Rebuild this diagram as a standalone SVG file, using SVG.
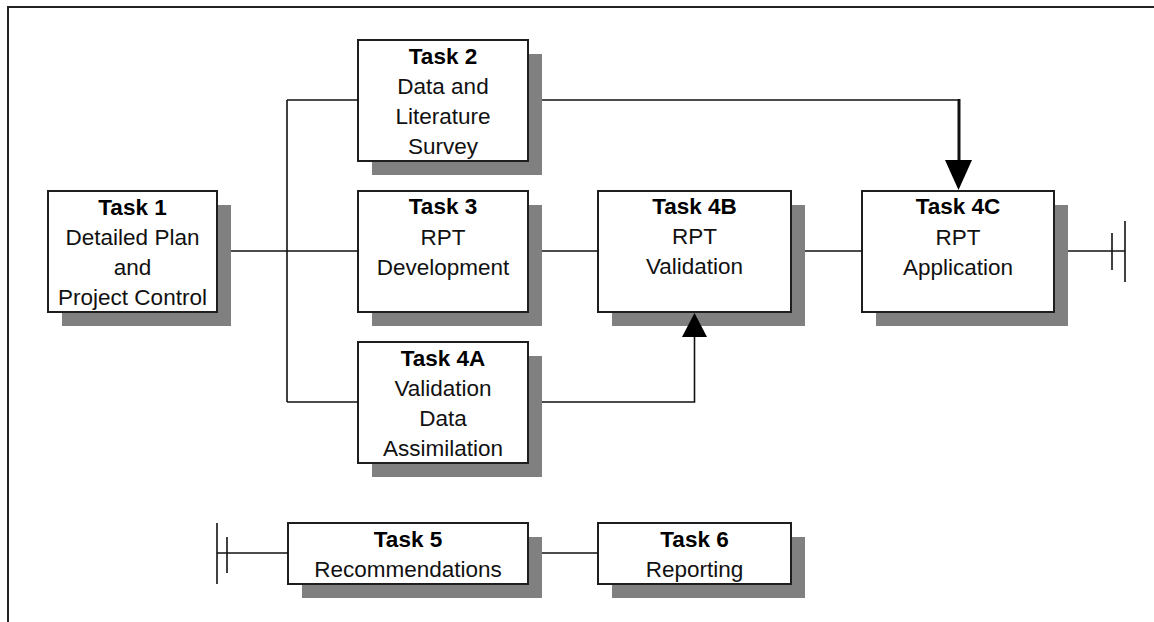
<svg xmlns="http://www.w3.org/2000/svg" width="1154" height="622" viewBox="0 0 1154 622">
  <style>
    .frame { fill: none; stroke: #222; stroke-width: 2; }
    .shadow { fill: #808080; stroke: none; }
    .box { fill: #fff; stroke: #1e1e1e; stroke-width: 2; }
    .link { fill: none; stroke: #111; stroke-width: 1.6; }
    .thick { fill: none; stroke: #111; stroke-width: 3; }
    .head { fill: #000; stroke: none; }
    text { font-family: "Liberation Sans", Arial, sans-serif; font-size: 22.5px; fill: #111; text-anchor: middle; }
    .title { font-weight: bold; fill: #000; }
  </style>

  <rect width="1154" height="622" fill="#fff"/>
  <!-- outer frame: only the top and left edges fall inside the page -->
  <path class="frame" d="M8,622 V7 H1154"/>

  <g id="task1">
    <rect class="shadow" x="62" y="205" width="169" height="121"/>
    <rect class="box" x="48" y="191" width="169" height="121"/>
    <text class="title" x="132.5" y="215">Task 1</text>
    <text x="132.5" y="245">Detailed Plan</text>
    <text x="132.5" y="275">and</text>
    <text x="132.5" y="305">Project Control</text>
  </g>

  <g id="task2">
    <rect class="shadow" x="372" y="54" width="170" height="121"/>
    <rect class="box" x="358" y="40" width="170" height="121"/>
    <text class="title" x="443" y="64">Task 2</text>
    <text x="443" y="94">Data and</text>
    <text x="443" y="124">Literature</text>
    <text x="443" y="154">Survey</text>
  </g>

  <g id="task3">
    <rect class="shadow" x="372" y="205" width="170" height="121"/>
    <rect class="box" x="358" y="191" width="170" height="121"/>
    <text class="title" x="443" y="214">Task 3</text>
    <text x="443" y="245">RPT</text>
    <text x="443" y="275">Development</text>
  </g>

  <g id="task4a">
    <rect class="shadow" x="372" y="356" width="170" height="121"/>
    <rect class="box" x="358" y="342" width="170" height="121"/>
    <text class="title" x="443" y="366">Task 4A</text>
    <text x="443" y="396">Validation</text>
    <text x="443" y="426">Data</text>
    <text x="443" y="456">Assimilation</text>
  </g>

  <g id="task4b">
    <rect class="shadow" x="612" y="205" width="193" height="121"/>
    <rect class="box" x="598" y="191" width="193" height="121"/>
    <text class="title" x="694.5" y="214">Task 4B</text>
    <text x="694.5" y="244">RPT</text>
    <text x="694.5" y="274">Validation</text>
  </g>

  <g id="task4c">
    <rect class="shadow" x="876" y="205" width="192" height="121"/>
    <rect class="box" x="862" y="191" width="192" height="121"/>
    <text class="title" x="958" y="214">Task 4C</text>
    <text x="958" y="245">RPT</text>
    <text x="958" y="275">Application</text>
  </g>

  <g id="task5">
    <rect class="shadow" x="302" y="537" width="240" height="61"/>
    <rect class="box" x="288" y="523" width="240" height="61"/>
    <text class="title" x="408" y="547">Task 5</text>
    <text x="408" y="577">Recommendations</text>
  </g>

  <g id="task6">
    <rect class="shadow" x="612" y="537" width="193" height="61"/>
    <rect class="box" x="598" y="523" width="193" height="61"/>
    <text class="title" x="694.5" y="547">Task 6</text>
    <text x="694.5" y="577">Reporting</text>
  </g>

  <!-- connectors drawn last so arrowheads sit over the drop shadows -->
  <g id="connectors">
    <!-- Task 1 to the distribution bus -->
    <path class="link" d="M231,251 H358"/>
    <path class="link" d="M287,100 V402"/>
    <path class="link" d="M287,100 H358"/>
    <path class="link" d="M287,402 H358"/>
    <!-- Task 2 to Task 4C -->
    <path class="link" d="M542,100 H959"/>
    <path class="thick" d="M959,99 V162"/>
    <polygon class="head" points="945,160 972,160 958.5,190"/>
    <!-- main chain -->
    <path class="link" d="M542,251 H598"/>
    <path class="link" d="M805,251 H862"/>
    <path class="link" d="M1068,251 H1125"/>
    <path class="link" d="M1112,233 V270"/>
    <path class="link" d="M1125,221 V282"/>
    <!-- Task 4A to Task 4B -->
    <path class="link" d="M542,402 H694.5 V335"/>
    <polygon class="head" points="682,337 707,337 694.5,313"/>
    <!-- reporting chain -->
    <path class="link" d="M217,553 H288"/>
    <path class="link" d="M217,523 V584"/>
    <path class="link" d="M227,537 V573"/>
    <path class="link" d="M542,553 H598"/>
  </g>
</svg>
